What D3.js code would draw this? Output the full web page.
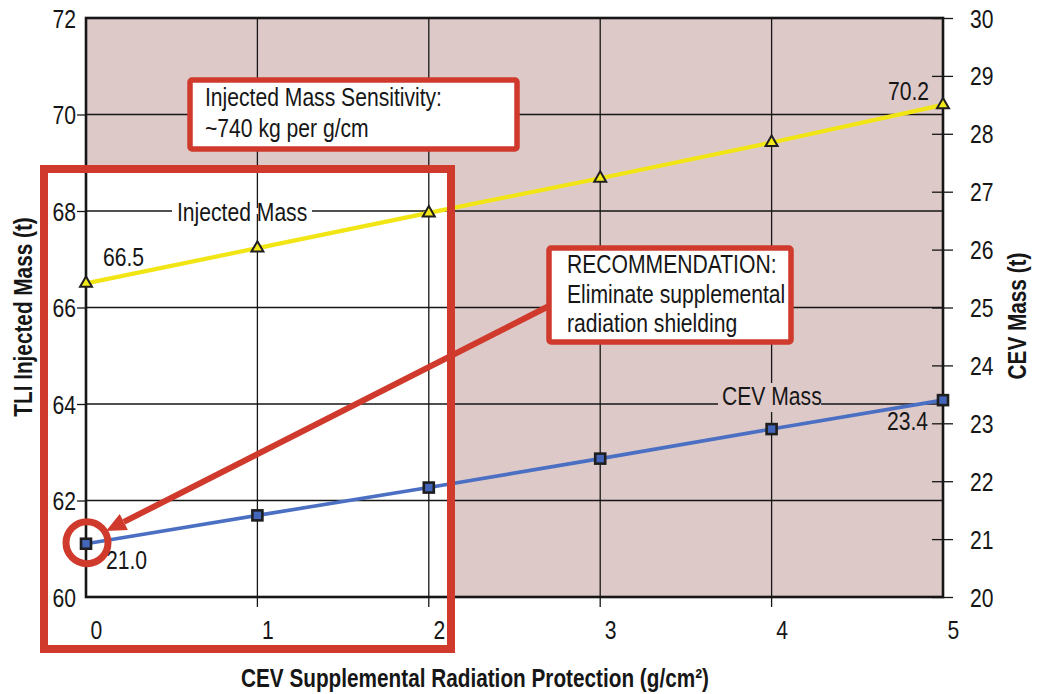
<!DOCTYPE html>
<html><head><meta charset="utf-8">
<script src="https://cdn.jsdelivr.net/npm/d3@7"></script>
<style>
body{margin:0;background:#fff}
svg text{font-family:"Liberation Sans",Arial,Helvetica,sans-serif;fill:#161616}
</style></head><body><svg id="c" width="1037" height="694"></svg>
<script>
// ---- data ----
const xVals = [0, 1, 2, 3, 4, 5];
const injectedMass = [66.5, 67.23, 67.96, 68.68, 69.42, 70.2];   // left axis (t)
const cevMass = [20.92, 21.41, 21.89, 22.39, 22.90, 23.4];      // right axis (t)
const leftTicks = [60, 62, 64, 66, 68, 70, 72];
const rightTicks = [20, 21, 22, 23, 24, 25, 26, 27, 28, 29, 30];
const xTicks = [0, 1, 2, 3, 4, 5];
const valueLabels = ["66.5", "70.2", "21.0", "23.4"];
const seriesNames = ["Injected Mass", "CEV Mass"];
const note1 = ["Injected Mass Sensitivity:", "~740 kg per g/cm"];
const note2 = ["RECOMMENDATION:", "Eliminate supplemental", "radiation shielding"];
const xTitle = "CEV Supplemental Radiation Protection (g/cm²)";
const yLTitle = "TLI Injected Mass (t)";
const yRTitle = "CEV Mass (t)";

// ---- layout ----
const L = 86, R = 943, T = 18, B = 597;
const RED = "#cf3a2c", PINK = "#dec9c9", INK = "#161616";
const svg = d3.select("#c");
const x = d3.scaleLinear().domain([0, 5]).range([L, R]);
const yL = d3.scaleLinear().domain([60, 72]).range([B, T]);
const yR = d3.scaleLinear().domain([20, 30]).range([B, T]);

svg.append("rect").attr("x", L).attr("y", T).attr("width", R - L).attr("height", B - T).attr("fill", PINK);
// white interior of highlight box
svg.append("rect").attr("x", 44).attr("y", 169).attr("width", 407).attr("height", 480).attr("fill", "#fff");

// grid
svg.append("g").selectAll("line").data(leftTicks.filter(v => v > 60 && v < 72)).join("line")
  .attr("x1", L).attr("x2", R).attr("y1", d => yL(d)).attr("y2", d => yL(d))
  .attr("stroke", INK).attr("stroke-width", 1.3);
svg.append("g").selectAll("line").data(xTicks.filter(v => v > 0 && v < 5)).join("line")
  .attr("x1", d => x(d)).attr("x2", d => x(d)).attr("y1", T).attr("y2", B + 10)
  .attr("stroke", INK).attr("stroke-width", 1.3);

// series label masks
svg.append("rect").attr("x", 172).attr("y", yL(68) - 3).attr("width", 140).attr("height", 6).attr("fill", "#fff");
svg.append("rect").attr("x", 718).attr("y", 383).attr("width", 103).attr("height", 29).attr("fill", PINK);

// axes
const gl = svg.append("g").attr("transform", `translate(${L},0)`)
  .call(d3.axisLeft(yL).tickValues(leftTicks).tickSize(9).tickPadding(1).tickFormat(d3.format("d")));
gl.select(".domain").remove();
gl.selectAll(".tick line").attr("stroke", INK).attr("stroke-width", 1.3).attr("opacity", d => (d === 60 || d === 72) ? 0 : 1);
gl.selectAll(".tick text").attr("font-size", 25).attr("fill", INK).attr("dy", "0.36em");

const gr = svg.append("g").attr("transform", `translate(${R},0)`)
  .call(d3.axisRight(yR).tickValues(rightTicks).tickSize(10).tickPadding(17).tickFormat(d3.format("d")));
gr.select(".domain").remove();
gr.selectAll(".tick line").attr("x1", -11).attr("stroke", INK).attr("stroke-width", 1.3);
gr.selectAll(".tick text").attr("font-size", 25).attr("fill", INK).attr("dy", "0.36em");

const gb = svg.append("g").attr("transform", `translate(0,${B})`)
  .call(d3.axisBottom(x).tickValues(xTicks).tickSize(0).tickPadding(24).tickFormat(d3.format("d")));
gb.select(".domain").remove();
gb.selectAll(".tick text").attr("font-size", 25).attr("fill", INK).attr("x", 10);

// frame
svg.append("rect").attr("x", L).attr("y", T).attr("width", R - L).attr("height", B - T)
  .attr("fill", "none").attr("stroke", INK).attr("stroke-width", 2.6);

// series lines
const lineL = d3.line().x((d, i) => x(xVals[i])).y(d => yL(d));
const lineR = d3.line().x((d, i) => x(xVals[i])).y(d => yR(d));
svg.append("path").attr("d", lineL(injectedMass)).attr("fill", "none").attr("stroke", "#f1e515").attr("stroke-width", 4.2);
svg.append("path").attr("d", lineR(cevMass)).attr("fill", "none").attr("stroke", "#4a6fc3").attr("stroke-width", 3.6);

svg.append("g").selectAll("path").data(injectedMass).join("path")
  .attr("d", d3.symbol(d3.symbolTriangle, 62)())
  .attr("transform", (d, i) => `translate(${x(xVals[i])},${yL(d)})`)
  .attr("fill", "#f3e81a").attr("stroke", "#1e1e1e").attr("stroke-width", 2);
svg.append("g").selectAll("rect").data(cevMass).join("rect")
  .attr("x", (d, i) => x(xVals[i]) - 5).attr("y", d => yR(d) - 5).attr("width", 10).attr("height", 10)
  .attr("fill", "#4466ba").attr("stroke", "#1e1e1e").attr("stroke-width", 2.6);

// value labels
svg.append("text").text(valueLabels[0]).attr("x", x(0) + 17).attr("y", yL(injectedMass[0]) - 17).attr("font-size", 25);
svg.append("text").text(valueLabels[1]).attr("x", x(5) - 14).attr("y", yL(injectedMass[5]) - 5).attr("font-size", 25).attr("text-anchor", "end");
svg.append("text").text(valueLabels[2]).attr("x", x(0) + 20).attr("y", yR(cevMass[0]) + 25).attr("font-size", 25);
svg.append("text").text(valueLabels[3]).attr("x", x(5) - 15).attr("y", yR(cevMass[5]) + 30).attr("font-size", 25).attr("text-anchor", "end");

// series names
svg.append("text").text(seriesNames[0]).attr("x", 177).attr("y", 221).attr("font-size", 25);
svg.append("text").text(seriesNames[1]).attr("x", 722).attr("y", 405).attr("font-size", 25);

// highlight box stroke
svg.append("rect").attr("x", 44).attr("y", 169).attr("width", 407).attr("height", 480)
  .attr("fill", "none").attr("stroke", RED).attr("stroke-width", 8);

// arrow
const a0 = [549, 306], tip = [106, 531];
const dx = tip[0] - a0[0], dy = tip[1] - a0[1], len = Math.hypot(dx, dy);
const ux = dx / len, uy = dy / len, hl = 20, hw = 9;
const bc = [tip[0] - hl * ux, tip[1] - hl * uy];
svg.append("line").attr("x1", a0[0]).attr("y1", a0[1]).attr("x2", bc[0]).attr("y2", bc[1])
  .attr("stroke", RED).attr("stroke-width", 6);
svg.append("path").attr("d", `M${tip[0]},${tip[1]}L${bc[0] - hw * uy},${bc[1] + hw * ux}L${bc[0] + hw * uy},${bc[1] - hw * ux}Z`)
  .attr("fill", RED);

// circle on recommended point
svg.append("circle").attr("cx", x(0) + 1).attr("cy", yR(cevMass[0]) - 1).attr("r", 21)
  .attr("fill", "none").attr("stroke", RED).attr("stroke-width", 7);

// note boxes
svg.append("rect").attr("x", 190).attr("y", 80).attr("width", 327).attr("height", 69).attr("rx", 2)
  .attr("fill", "#fff").attr("stroke", RED).attr("stroke-width", 5.5);
note1.forEach((t, i) => svg.append("text").text(t).attr("x", 205).attr("y", 106 + i * 31).attr("font-size", 25));
svg.append("rect").attr("x", 549).attr("y", 248).attr("width", 242).attr("height", 94).attr("rx", 2)
  .attr("fill", "#fff").attr("stroke", RED).attr("stroke-width", 5.5);
note2.forEach((t, i) => svg.append("text").text(t).attr("x", 567).attr("y", 273 + i * 29.5).attr("font-size", 25));

// axis titles
svg.append("text").text(xTitle).attr("x", 475).attr("y", 687).attr("text-anchor", "middle")
  .attr("font-size", 25).attr("font-weight", "bold");
svg.append("text").text(yLTitle).attr("transform", "translate(32,317) rotate(-90)").attr("text-anchor", "middle")
  .attr("font-size", 25).attr("font-weight", "bold");
svg.append("text").text(yRTitle).attr("transform", "translate(1026,316) rotate(-90)").attr("text-anchor", "middle")
  .attr("font-size", 25).attr("font-weight", "bold");

// condensed look: horizontally compress every text about its anchor
svg.selectAll("text").each(function () {
  const t = d3.select(this);
  const tx = +t.attr("x") || 0, ty = +t.attr("y") || 0;
  const s = t.attr("font-weight") === "bold" ? 0.83 : 0.845;
  const pre = t.attr("transform") || "";
  t.attr("x", 0).attr("y", 0).attr("transform", `${pre} translate(${tx},${ty}) scale(${s},1)`);
});
</script></body></html>
